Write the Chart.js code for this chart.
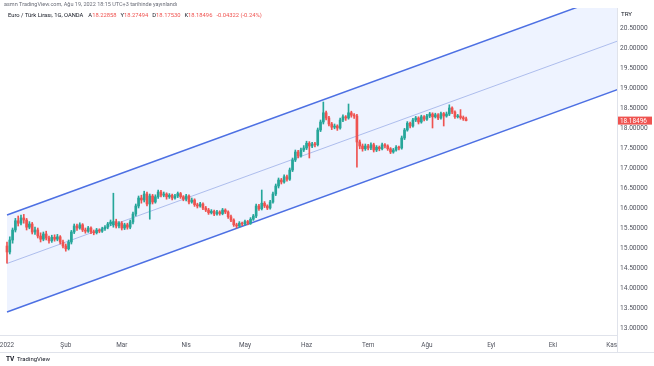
<!DOCTYPE html>
<html>
<head>
<meta charset="utf-8">
<script src="https://cdn.jsdelivr.net/npm/chart.js@4.4.0/dist/chart.umd.min.js"></script>
<style>
    html, body { margin: 0; padding: 0; background: #fff; }
    canvas { display: block; }
</style>
</head>
<body>
<canvas id="chart" width="654" height="366"></canvas>
<script>
// EUR/TRY daily bars (OANDA), bar index 0 = 3 Jan 2022 ... 164 = 19 Aug 2022
const opens = [
    15.05, 14.90, 15.20, 15.45, 15.68, 15.62, 15.75, 15.70, 15.52, 15.60,
    15.40, 15.45, 15.30, 15.22, 15.35, 15.25, 15.18, 15.27, 15.22, 15.28,
    15.15, 15.05, 14.98, 15.15, 15.40, 15.55, 15.50, 15.58, 15.45, 15.42,
    15.50, 15.40, 15.38, 15.45, 15.42, 15.48, 15.52, 15.60, 15.58, 15.66,
    15.55, 15.62, 15.50, 15.58, 15.52, 15.65, 15.85, 16.05, 16.25, 16.20,
    16.35, 16.10, 16.30, 16.15, 16.28, 16.40, 16.32, 16.35, 16.28, 16.32,
    16.25, 16.30, 16.36, 16.28, 16.22, 16.30, 16.15, 16.20, 16.08, 16.05,
    16.10, 16.00, 15.95, 15.88, 15.92, 15.85, 15.90, 15.86, 15.95, 15.90,
    15.78, 15.70, 15.58, 15.55, 15.62, 15.60, 15.66, 15.62, 15.72, 15.80,
    16.05, 15.98, 16.12, 16.05, 16.00, 16.15, 16.35, 16.55, 16.70, 16.65,
    16.78, 16.72, 16.95, 17.20, 17.40, 17.30, 17.45, 17.50, 17.62, 17.55,
    17.60, 17.58, 17.95, 18.15, 18.38, 18.25, 18.10, 18.02, 18.05, 18.00,
    18.20, 18.28, 18.25, 18.38, 18.32, 18.30, 17.65, 17.55, 17.48, 17.55,
    17.50, 17.58, 17.45, 17.52, 17.48, 17.58, 17.55, 17.48, 17.40, 17.45,
    17.52, 17.50, 17.75, 17.95, 18.12, 18.05, 18.20, 18.25, 18.15, 18.28,
    18.22, 18.30, 18.35, 18.28, 18.33, 18.25, 18.36, 18.30, 18.35, 18.50,
    18.40, 18.28, 18.30, 18.26, 18.22858
];
const highs = [
    15.15, 15.28, 15.50, 15.74, 15.80, 15.82, 15.84, 15.74, 15.66, 15.64,
    15.52, 15.50, 15.38, 15.40, 15.42, 15.30, 15.32, 15.33, 15.34, 15.31,
    15.20, 15.10, 15.20, 15.44, 15.60, 15.60, 15.63, 15.61, 15.50, 15.54,
    15.53, 15.45, 15.49, 15.48, 15.52, 15.56, 15.64, 15.70, 16.37, 15.72,
    15.66, 15.66, 15.62, 15.62, 15.70, 15.90, 16.10, 16.30, 16.32, 16.42,
    16.40, 16.35, 16.34, 16.33, 16.45, 16.44, 16.40, 16.38, 16.36, 16.35,
    16.34, 16.40, 16.39, 16.31, 16.34, 16.33, 16.25, 16.23, 16.12, 16.14,
    16.13, 16.04, 15.99, 15.96, 15.95, 15.94, 15.93, 15.99, 15.98, 15.93,
    15.82, 15.73, 15.62, 15.66, 15.65, 15.70, 15.69, 15.76, 15.84, 16.10,
    16.09, 16.45, 16.16, 16.08, 16.19, 16.40, 16.60, 16.75, 16.74, 16.83,
    16.82, 17.00, 17.25, 17.45, 17.44, 17.50, 17.56, 17.67, 17.66, 17.64,
    17.64, 18.00, 18.20, 18.65, 18.42, 18.29, 18.14, 18.10, 18.08, 18.25,
    18.33, 18.31, 18.60, 18.42, 18.36, 18.34, 17.70, 17.60, 17.60, 17.59,
    17.63, 17.62, 17.56, 17.55, 17.62, 17.61, 17.58, 17.51, 17.49, 17.56,
    17.55, 17.80, 17.99, 18.16, 18.15, 18.24, 18.29, 18.28, 18.32, 18.31,
    18.34, 18.39, 18.38, 18.37, 18.36, 18.40, 18.39, 18.40, 18.58, 18.53,
    18.43, 18.34, 18.46, 18.30, 18.27494
];
const lows = [
    14.62, 14.85, 15.12, 15.40, 15.55, 15.58, 15.62, 15.45, 15.48, 15.35,
    15.34, 15.25, 15.15, 15.18, 15.20, 15.12, 15.14, 15.17, 15.18, 15.10,
    15.00, 14.92, 14.95, 15.10, 15.36, 15.44, 15.47, 15.41, 15.37, 15.39,
    15.36, 15.33, 15.35, 15.38, 15.39, 15.44, 15.48, 15.56, 15.52, 15.50,
    15.50, 15.45, 15.46, 15.47, 15.48, 15.60, 15.80, 16.00, 16.12, 16.15,
    16.05, 15.72, 16.10, 16.12, 16.24, 16.28, 16.28, 16.22, 16.24, 16.20,
    16.22, 16.26, 16.24, 16.18, 16.18, 16.10, 16.12, 16.04, 16.00, 16.02,
    15.96, 15.91, 15.84, 15.85, 15.81, 15.82, 15.82, 15.83, 15.86, 15.74,
    15.66, 15.54, 15.50, 15.52, 15.56, 15.57, 15.58, 15.59, 15.69, 15.76,
    15.94, 15.95, 16.01, 15.96, 15.97, 16.12, 16.31, 16.50, 16.60, 16.62,
    16.67, 16.69, 16.91, 17.16, 17.25, 17.27, 17.41, 17.46, 17.25, 17.51,
    17.53, 17.55, 17.91, 18.10, 18.20, 18.05, 17.96, 17.98, 17.94, 17.97,
    18.16, 18.19, 18.22, 18.27, 18.24, 17.02, 17.48, 17.42, 17.44, 17.45,
    17.46, 17.40, 17.41, 17.43, 17.45, 17.50, 17.44, 17.36, 17.37, 17.42,
    17.45, 17.47, 17.71, 17.92, 18.00, 18.02, 18.16, 18.10, 18.12, 18.18,
    18.19, 18.26, 18.00, 18.25, 18.21, 18.22, 18.05, 18.27, 18.31, 18.36,
    18.24, 18.25, 18.22, 18.19, 18.17530
];
const closes = [
    14.90, 15.20, 15.45, 15.68, 15.62, 15.75, 15.70, 15.52, 15.60, 15.40,
    15.45, 15.30, 15.22, 15.35, 15.25, 15.18, 15.27, 15.22, 15.28, 15.15,
    15.05, 14.98, 15.15, 15.40, 15.55, 15.50, 15.58, 15.45, 15.42, 15.50,
    15.40, 15.38, 15.45, 15.42, 15.48, 15.52, 15.60, 15.65, 15.66, 15.55,
    15.62, 15.50, 15.58, 15.52, 15.65, 15.85, 16.05, 16.25, 16.20, 16.35,
    16.10, 16.30, 16.15, 16.28, 16.40, 16.32, 16.35, 16.28, 16.32, 16.25,
    16.30, 16.36, 16.28, 16.22, 16.30, 16.15, 16.20, 16.08, 16.05, 16.10,
    16.00, 15.95, 15.88, 15.92, 15.85, 15.90, 15.86, 15.95, 15.90, 15.78,
    15.70, 15.58, 15.55, 15.62, 15.60, 15.66, 15.62, 15.72, 15.80, 16.05,
    15.98, 16.12, 16.05, 16.00, 16.15, 16.35, 16.55, 16.70, 16.65, 16.78,
    16.72, 16.95, 17.20, 17.40, 17.30, 17.45, 17.50, 17.62, 17.55, 17.60,
    17.58, 17.95, 18.15, 18.38, 18.25, 18.10, 18.02, 18.05, 18.00, 18.20,
    18.28, 18.25, 18.38, 18.32, 18.30, 17.65, 17.55, 17.48, 17.55, 17.50,
    17.58, 17.45, 17.52, 17.48, 17.58, 17.55, 17.48, 17.40, 17.45, 17.52,
    17.50, 17.75, 17.95, 18.12, 18.05, 18.20, 18.25, 18.15, 18.28, 18.22,
    18.30, 18.35, 18.28, 18.33, 18.25, 18.36, 18.30, 18.35, 18.50, 18.40,
    18.28, 18.30, 18.26, 18.23, 18.18496
];

// month ticks (bar index of first trading day of each month)
const monthStarts = [0, 21, 41, 64, 85, 107, 129, 150, 173, 195, 216];
const monthLabels = ['2022', 'Şub', 'Mar', 'Nis', 'May', 'Haz', 'Tem', 'Ağu', 'Eyl', 'Eki', 'Kas'];
const priceTicks = [13, 13.5, 14, 14.5, 15, 15.5, 16, 16.5, 17, 17.5, 18, 18.5, 19, 19.5, 20, 20.5];

// regression channel, values at bar 0 and bar 218
const channelX = [0, 218];
const channelUpper = [15.825, 21.384];
const channelMid = [14.6125, 20.171];
const channelLower = [13.40, 18.959];

const UP = '#26a69a';
const DOWN = '#ef5350';
const FONT = 'Roboto, "Open Sans", sans-serif';

const candleColor = ctx => {
    const i = ctx.dataIndex;
    if (i === undefined) return DOWN;
    return closes[i] >= opens[i] ? UP : DOWN;
};

const toLine = vals => channelX.map((x, i) => ({ x, y: vals[i] }));

const overlay = {
    id: 'overlay',
    afterDraw(chart) {
        const c = chart.ctx;
        const area = chart.chartArea;
        const yScale = chart.scales.y;
        c.save();

        // axis boxes
        c.strokeStyle = '#e0e3eb';
        c.lineWidth = 1;
        c.beginPath();
        c.moveTo(0, 352.5);
        c.lineTo(654, 352.5);
        c.moveTo(area.right + 0.5, area.bottom);
        c.lineTo(area.right + 0.5, 352);
        c.stroke();

        // header lines
        c.textBaseline = 'middle';
        c.textAlign = 'left';
        c.font = '5.5px ' + FONT;
        c.fillStyle = '#6a6d78';
        c.fillText('asmn TradingView.com, Ağu 19, 2022 18:15 UTC+3 tarihinde yayınlandı', 4, 5);

        const parts = [
            ['Euro / Türk Lirası, 1G, OANDA', '#131722', 5],
            ['A', '#131722', 0], ['18.22858', DOWN, 4],
            ['Y', '#131722', 0], ['18.27494', DOWN, 4],
            ['D', '#131722', 0], ['18.17530', DOWN, 4],
            ['K', '#131722', 0], ['18.18496', DOWN, 4],
            ['-0.04322 (-0.24%)', DOWN, 0]
        ];
        c.font = '5.8px ' + FONT;
        let x = 8;
        parts.forEach(([t, col, gap]) => {
            c.fillStyle = col;
            c.fillText(t, x, 16);
            x += c.measureText(t).width + gap;
        });

        // currency label
        c.font = '6.2px ' + FONT;
        c.fillStyle = '#131722';
        c.fillText('TRY', 621, 14);

        // last price badge
        const last = closes[closes.length - 1];
        const py = yScale.getPixelForValue(last);
        c.fillStyle = '#ef5350';
        c.fillRect(area.right + 1, py - 4, 34, 8);
        c.fillStyle = '#fff';
        c.font = '6.4px ' + FONT;
        c.fillText(last.toFixed(5), area.right + 3, py + 0.5);

        // logo
        c.fillStyle = '#131722';
        c.font = 'bold 6.5px ' + FONT;
        c.fillText('TV', 6, 359);
        c.font = '6px ' + FONT;
        c.fillText('TradingView', 17, 359);

        c.restore();
    }
};

new Chart(document.getElementById('chart'), {
    type: 'bar',
    data: {
        datasets: [
            {
                type: 'line',
                data: toLine(channelUpper),
                borderColor: '#4d70e3',
                borderWidth: 1.5,
                pointRadius: 0,
                fill: 2,
                backgroundColor: 'rgba(41, 98, 255, 0.08)',
                order: 5
            },
            {
                type: 'line',
                data: toLine(channelMid),
                borderColor: 'rgba(110, 135, 220, 0.5)',
                borderWidth: 1,
                pointRadius: 0,
                fill: false,
                order: 4
            },
            {
                type: 'line',
                data: toLine(channelLower),
                borderColor: '#4d70e3',
                borderWidth: 1.5,
                pointRadius: 0,
                fill: false,
                order: 3
            },
            {
                data: highs.map((h, i) => ({ x: i, y: [lows[i], h] })),
                backgroundColor: candleColor,
                barThickness: 1,
                borderWidth: 0,
                grouped: false,
                order: 2
            },
            {
                data: opens.map((o, i) => ({ x: i, y: [o, closes[i]] })),
                backgroundColor: candleColor,
                barThickness: 2,
                minBarLength: 1,
                borderWidth: 0,
                grouped: false,
                order: 1
            }
        ]
    },
    options: {
        responsive: false,
        animation: false,
        layout: { padding: { top: 8, left: 0, right: 0, bottom: 0 } },
        plugins: {
            legend: { display: false },
            tooltip: { enabled: false }
        },
        scales: {
            x: {
                type: 'linear',
                min: -2.5,
                max: 217.9,
                offset: false,
                grid: { display: false, drawTicks: false },
                border: { display: true, color: '#e0e3eb' },
                ticks: {
                    autoSkip: false,
                    maxRotation: 0,
                    padding: 7,
                    color: '#50535e',
                    font: { family: FONT, size: 6.4 },
                    callback: v => monthLabels[monthStarts.indexOf(v)]
                },
                afterBuildTicks: scale => {
                    scale.ticks = monthStarts.map(v => ({ value: v }));
                },
                afterFit: scale => {
                    scale.height = 31;
                    scale.paddingLeft = 0;
                    scale.paddingRight = 0;
                }
            },
            y: {
                position: 'right',
                min: 12.825,
                max: 21.0,
                grid: { display: false, drawTicks: false },
                border: { display: true, color: '#e0e3eb' },
                ticks: {
                    padding: 3,
                    color: '#50535e',
                    font: { family: FONT, size: 6.6 },
                    callback: v => v.toFixed(5)
                },
                afterBuildTicks: scale => {
                    scale.ticks = priceTicks.map(v => ({ value: v }));
                },
                afterFit: scale => {
                    scale.width = 37;
                    scale.paddingTop = 0;
                    scale.paddingBottom = 0;
                }
            }
        }
    },
    plugins: [overlay]
});
</script>
</body>
</html>
